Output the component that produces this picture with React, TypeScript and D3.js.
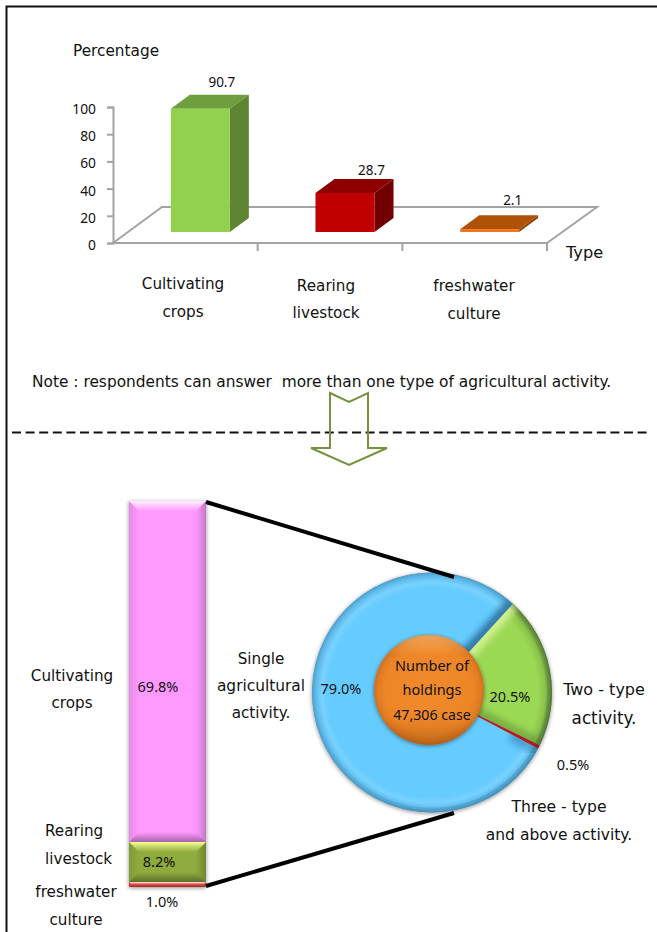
import React, { useEffect, useRef } from 'react';
import * as d3 from 'd3';

const W = 657;
const H = 932;
const FONT = '"DejaVu Sans", sans-serif';
const NUM_FONT = '"Noto Sans", sans-serif';

const BAR_CATEGORIES = ['Cultivating crops', 'Rearing livestock', 'freshwater culture'];
const BAR_VALUES = [90.7, 28.7, 2.1];
const BAR_TICKS = [0, 20, 40, 60, 80, 100];
const BAR_COLORS = [
    { front: '#92D050', top: '#6F9E3C', side: '#5E8532' },
    { front: '#C00000', top: '#8E0000', side: '#730000' },
    { front: '#F0761A', top: '#AE5208', side: '#8F4507' }
];

const STACK_CATEGORIES = ['Cultivating crops', 'Rearing livestock', 'freshwater culture'];
const STACK_VALUES = [69.8, 8.2, 1.0];
const STACK_COLORS = ['#FF99FF', '#8FAB3E', '#E2463F'];
const STACK_TOP_FADES = ['fadeTop', 'fadeTopYellow', 'fadeTop'];

const PIE_LABELS = ['Two - type', '0.5%', 'Single'];
const PIE_VALUES = [20.5, 0.5, 79.0];

const App: React.FC = () => {
    const svgRef = useRef<SVGSVGElement>(null);

    useEffect(() => {
        if (!svgRef.current) return;
        const svg = d3.select(svgRef.current);
        svg.selectAll('*').remove();

        const defs = svg.append('defs');

        const shadow = defs.append('filter').attr('id', 'shadow')
            .attr('x', '-10%').attr('y', '-10%').attr('width', '120%').attr('height', '120%');
        shadow.append('feDropShadow').attr('dx', 0).attr('dy', 1).attr('stdDeviation', 2)
            .attr('flood-color', '#000').attr('flood-opacity', 0.45);

        const blur = defs.append('filter').attr('id', 'blur')
            .attr('x', '-30%').attr('y', '-30%').attr('width', '160%').attr('height', '160%');
        blur.append('feGaussianBlur').attr('stdDeviation', 3);

        const addRadial = (id: string, cx: number, cy: number, r: number, stops: [number, string][]) => {
            const g = defs.append('radialGradient').attr('id', id)
                .attr('gradientUnits', 'userSpaceOnUse')
                .attr('cx', cx).attr('cy', cy).attr('r', r);
            stops.forEach(([o, c]) => g.append('stop').attr('offset', o).attr('stop-color', c));
        };
        const addFade = (id: string, x1: number, y1: number, x2: number, y2: number, color: string, op: number) => {
            const g = defs.append('linearGradient').attr('id', id)
                .attr('x1', x1).attr('y1', y1).attr('x2', x2).attr('y2', y2);
            g.append('stop').attr('offset', 0).attr('stop-color', color).attr('stop-opacity', op);
            g.append('stop').attr('offset', 1).attr('stop-color', color).attr('stop-opacity', 0);
        };
        addFade('fadeTop', 0, 0, 0, 1, '#fff', 0.85);
        addFade('fadeTopYellow', 0, 0, 0, 1, '#F6FF90', 1);
        addFade('fadeBottom', 0, 1, 0, 0, '#000', 0.35);
        addFade('fadeLeft', 0, 0, 1, 0, '#000', 0.1);
        addFade('fadeRight', 1, 0, 0, 0, '#000', 0.22);
        addFade('rimShade', 1, 1, 0.3, 0.3, '#0A2F4A', 0.2);
        addFade('discTop', 0, 0, 0, 0.18, '#FFD9A0', 0.45);
        addFade('discBottom', 0, 1, 0, 0.75, '#6B3000', 0.3);

        // frame
        svg.append('path')
            .attr('d', `M6.5,${H}V6.5H${W}`)
            .attr('fill', 'none').attr('stroke', '#111').attr('stroke-width', 2);

        const addText = (x: number, y: number, t: string, size = 15.2, anchor = 'middle', family = FONT) => {
            svg.append('text')
                .attr('x', x).attr('y', y)
                .attr('text-anchor', anchor)
                .attr('font-family', family)
                .attr('font-size', size)
                .attr('fill', '#111')
                .style('white-space', 'pre')
                .text(t);
        };

        /* ---------- 3D column chart ---------- */
        const floor = { left: 113, right: 547, front: 243, back: 207, dx: 49 };
        const x = d3.scaleBand<string>().domain(BAR_CATEGORIES).range([floor.left, floor.right]);
        const y = d3.scaleLinear().domain([0, 100]).range([243, 107]);
        const barW = 59;
        const depthX = 19;
        const depthY = 14;
        const axisGray = '#A3A3A3';

        svg.append('path')
            .attr('d', `M${floor.left},${floor.front}L${floor.left + floor.dx},${floor.back}H${floor.right + 50}L${floor.right},${floor.front}Z`)
            .attr('fill', 'none').attr('stroke', axisGray).attr('stroke-width', 2);

        const yAxis = svg.append('g')
            .attr('transform', `translate(${floor.left},0)`)
            .call(d3.axisLeft(y).tickValues(BAR_TICKS).tickSize(6).tickPadding(11));
        yAxis.select('.domain').attr('stroke', axisGray).attr('stroke-width', 2);
        yAxis.selectAll('line').attr('stroke', axisGray).attr('stroke-width', 2);
        yAxis.selectAll('text')
            .attr('font-family', NUM_FONT).attr('font-size', 13.8).attr('fill', '#111')
            .attr('y', 2);

        BAR_CATEGORIES.forEach((c) => {
            const tx = (x(c) as number) + x.bandwidth();
            svg.append('line')
                .attr('x1', tx).attr('x2', tx).attr('y1', floor.front).attr('y2', floor.front + 8)
                .attr('stroke', axisGray).attr('stroke-width', 2);
        });

        const baseY = 232;
        const bars = svg.append('g');
        BAR_CATEGORIES.forEach((c, i) => {
            const x0 = (x(c) as number) + x.bandwidth() / 2 + 15 - barW / 2;
            const x1 = x0 + barW;
            const top = y(BAR_VALUES[i]) - (floor.front - baseY);
            const col = BAR_COLORS[i];
            bars.append('path')
                .attr('d', `M${x0},${top}L${x0 + depthX},${top - depthY}H${x1 + depthX}L${x1},${top}Z`)
                .attr('fill', col.top);
            bars.append('path')
                .attr('d', `M${x1},${top}L${x1 + depthX},${top - depthY}V${baseY - depthY}L${x1},${baseY}Z`)
                .attr('fill', col.side);
            bars.append('rect')
                .attr('x', x0).attr('y', top).attr('width', barW).attr('height', baseY - top)
                .attr('fill', col.front);
        });

        const barLabelOffsets = [[21.5, -21.5], [26.5, -18], [23, -24]];
        BAR_VALUES.forEach((v, i) => {
            const c = BAR_CATEGORIES[i];
            const cx = (x(c) as number) + x.bandwidth() / 2 + 15;
            const top = y(v) - (floor.front - baseY);
            addText(cx + barLabelOffsets[i][0], top + barLabelOffsets[i][1], v.toFixed(1), 13.5, 'middle', NUM_FONT);
        });

        addText(73, 56, 'Percentage', 15.3, 'start');
        addText(566, 258, 'Type', 16.2, 'start');
        addText(183, 289, 'Cultivating');
        addText(183, 317, 'crops');
        addText(326, 291, 'Rearing');
        addText(326, 318, 'livestock');
        addText(474, 291, 'freshwater');
        addText(474, 319, 'culture');
        addText(32, 387, 'Note : respondents can answer  more than one type of agricultural activity.', 15.4, 'start');

        // separator and arrow
        svg.append('line')
            .attr('x1', 12).attr('x2', 650).attr('y1', 432.5).attr('y2', 432.5)
            .attr('stroke', '#111').attr('stroke-width', 2).attr('stroke-dasharray', '9 4.6');
        svg.append('path')
            .attr('d', 'M330,393L349,402L368,393V448H387L349,465L311,448H330Z')
            .attr('fill', 'none').attr('stroke', '#76923C').attr('stroke-width', 2);

        /* ---------- stacked bar ---------- */
        const stackLeft = 129;
        const stackRight = 206;
        const stackY = d3.scaleLinear().domain([0, d3.sum(STACK_VALUES)]).range([501, 887]);
        const stackRow = [Object.fromEntries(STACK_CATEGORIES.map((c, i) => [c, STACK_VALUES[i]]))];
        const series = d3.stack<any>().keys(STACK_CATEGORIES)(stackRow);

        const stackG = svg.append('g');
        stackG.append('rect')
            .attr('x', stackLeft).attr('y', stackY.range()[0])
            .attr('width', stackRight - stackLeft).attr('height', stackY.range()[1] - stackY.range()[0])
            .attr('fill', '#999').attr('filter', 'url(#shadow)');
        series.forEach((s, i) => {
            const yTop = stackY(s[0][0]);
            const yBot = stackY(s[0][1]);
            const b = Math.min(10, (yBot - yTop) / 2);
            stackG.append('rect')
                .attr('x', stackLeft).attr('y', yTop)
                .attr('width', stackRight - stackLeft).attr('height', yBot - yTop)
                .attr('fill', STACK_COLORS[i]);
            const l = stackLeft, r = stackRight;
            const sides: [string, string][] = [
                [`M${l},${yTop}H${r}L${r - b},${yTop + b}H${l + b}Z`, STACK_TOP_FADES[i]],
                [`M${l},${yBot}H${r}L${r - b},${yBot - b}H${l + b}Z`, 'fadeBottom'],
                [`M${l},${yTop}V${yBot}L${l + b},${yBot - b}V${yTop + b}Z`, 'fadeLeft'],
                [`M${r},${yTop}V${yBot}L${r - b},${yBot - b}V${yTop + b}Z`, 'fadeRight']
            ];
            sides.forEach(([d, g]) => stackG.append('path').attr('d', d).attr('fill', `url(#${g})`));
        });

        addText(158, 692, '69.8%', 14.5, 'middle', NUM_FONT);
        addText(159, 867, '8.2%', 14.5, 'middle', NUM_FONT);
        addText(162, 907, '1.0%', 14.5, 'middle', NUM_FONT);
        addText(72, 681, 'Cultivating');
        addText(72, 708, 'crops');
        addText(45, 836, 'Rearing', 15.2, 'start');
        addText(45, 864, 'livestock', 15.2, 'start');
        addText(76, 897, 'freshwater');
        addText(76, 925, 'culture');

        /* ---------- pie ---------- */
        const cx = 432;
        const cy = 692.5;
        const R = 120;
        const startA = (42.3 * Math.PI) / 180;
        const pie = d3.pie<number>().sort(null).startAngle(startA).endAngle(startA + 2 * Math.PI);
        const arcs = pie(PIE_VALUES);
        const arc = d3.arc<d3.PieArcDatum<number>>().innerRadius(0).outerRadius(R);

        addRadial('pieGreen', 0, 0, R, [[0, '#9BD955'], [0.88, '#9BD955'], [0.94, '#8DC44C'], [0.98, '#6E9A3A'], [1, '#587D2E']]);
        addRadial('pieRed', 0, 0, R, [[0, '#C8242A'], [1, '#A81E22']]);
        addRadial('pieBlue', 0, 0, R, [[0, '#66CCFF'], [0.87, '#66CCFF'], [0.92, '#78D2FF'], [0.97, '#5DB9E8'], [1, '#4A9FCE']]);
        const pieFills = ['url(#pieGreen)', 'url(#pieRed)', 'url(#pieBlue)'];
        const edgeStyles = [
            { start: '#DDF59A', startOp: 0.8, end: '#5E8530', endOp: 0.5 },
            null,
            { start: '#1F5F8C', startOp: 0.4, end: '#1F5F8C', endOp: 0.75 }
        ];

        const pieG = svg.append('g').attr('transform', `translate(${cx},${cy})`);
        pieG.append('circle').attr('r', R).attr('fill', '#999').attr('filter', 'url(#shadow)');

        const radial = (a: number, r = R) => [r * Math.sin(a), -r * Math.cos(a)];
        arcs.forEach((d, i) => {
            pieG.append('path').attr('d', arc(d) as string).attr('fill', pieFills[i]);
            const st = edgeStyles[i];
            if (!st) return;
            const clipId = `slice${i}`;
            defs.append('clipPath').attr('id', clipId)
                .append('path').attr('d', arc(d) as string);
            const clipped = pieG.append('g').attr('clip-path', `url(#${clipId})`);
            // the blue slice only darkens near the rim on its lower edge
            const a0from = radial(d.startAngle, i === 2 ? R * 0.75 : 0);
            const a0 = radial(d.startAngle);
            const a1 = radial(d.endAngle);
            clipped.append('line').attr('x1', a0from[0]).attr('y1', a0from[1]).attr('x2', a0[0]).attr('y2', a0[1])
                .attr('stroke', st.start).attr('stroke-opacity', st.startOp)
                .attr('stroke-width', 14).attr('filter', 'url(#blur)');
            clipped.append('line').attr('x1', 0).attr('y1', 0).attr('x2', a1[0]).attr('y2', a1[1])
                .attr('stroke', st.end).attr('stroke-opacity', st.endOp)
                .attr('stroke-width', 14).attr('filter', 'url(#blur)');
        });

        // rim is darker towards the lower right
        pieG.append('path')
            .attr('d', d3.arc()({ innerRadius: R * 0.96, outerRadius: R, startAngle: 0, endAngle: 2 * Math.PI }) as string)
            .attr('fill', 'url(#rimShade)');

        // centre disc
        addRadial('disc', 429, 690, 55, [[0, '#F08A2C'], [0.8, '#EE8628'], [0.93, '#E17C22'], [1, '#CC7020']]);
        svg.append('circle')
            .attr('cx', 429).attr('cy', 690).attr('r', 55)
            .attr('fill', 'url(#disc)').attr('filter', 'url(#shadow)');
        svg.append('circle').attr('cx', 429).attr('cy', 690).attr('r', 55).attr('fill', 'url(#discTop)');
        svg.append('circle').attr('cx', 429).attr('cy', 690).attr('r', 55).attr('fill', 'url(#discBottom)');

        /* ---------- connector lines ---------- */
        const connector = svg.append('g').attr('stroke', '#000').attr('stroke-width', 4);
        connector.append('line').attr('x1', 206).attr('y1', 502).attr('x2', 454).attr('y2', 577);
        connector.append('line').attr('x1', 206).attr('y1', 886).attr('x2', 454).attr('y2', 813);

        addText(432, 671, 'Number of', 14.5, 'middle', NUM_FONT);
        addText(432, 695, 'holdings', 14.5, 'middle', NUM_FONT);
        addText(432, 720, '47,306 case', 14.2, 'middle', NUM_FONT);
        addText(341, 694, `${PIE_VALUES[2].toFixed(1)}%`, 14.5, 'middle', NUM_FONT);
        addText(510, 702, `${PIE_VALUES[0].toFixed(1)}%`, 14.5, 'middle', NUM_FONT);
        addText(573, 770, `${PIE_VALUES[1].toFixed(1)}%`, 14.5, 'middle', NUM_FONT);

        addText(261, 664, 'Single');
        addText(261, 691, 'agricultural', 15.4);
        addText(261, 718, 'activity.');
        addText(604, 695, PIE_LABELS[0], 16);
        addText(604, 724, 'activity.', 16.8);
        addText(559, 812, 'Three - type', 15.6);
        addText(559, 840, 'and above activity.', 15.5);
    }, []);

    return (
        <svg
            ref={svgRef}
            width={W}
            height={H}
            style={{ position: 'absolute', left: 0, top: 0, background: '#fff' }}
        />
    );
};

export default App;
